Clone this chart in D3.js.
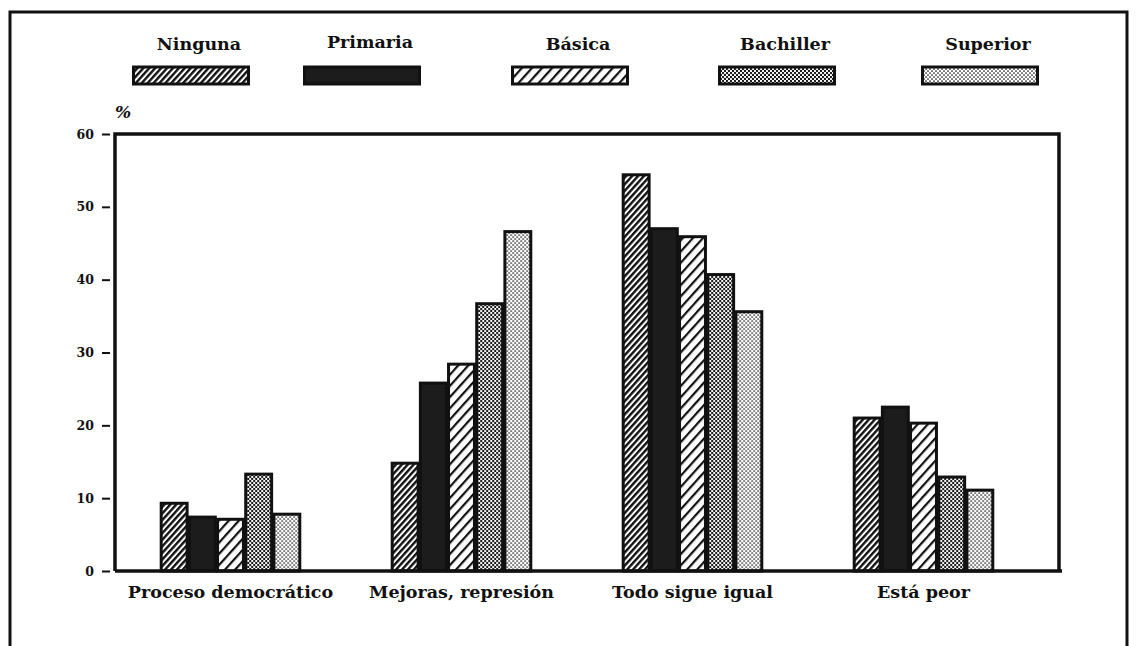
<!DOCTYPE html>
<html>
<head>
<meta charset="utf-8">
<script src="https://cdn.jsdelivr.net/npm/d3@7"></script>
<style>
  body { margin: 0; background: #fff; }
  text { font-family: 'DejaVu Serif', serif; fill: #111; }
</style>
</head>
<body>
<div id="chart"></div>
<script>
// values (%)
const categories = ['Proceso democrático', 'Mejoras, represión', 'Todo sigue igual', 'Está peor']
const levels = ['Ninguna', 'Primaria', 'Básica', 'Bachiller', 'Superior']
const ninguna = [9.3, 14.8, 54.4, 21.0]
const primaria = [7.4, 25.8, 47.0, 22.5]
const basica = [7.1, 28.4, 45.9, 20.3]
const bachiller = [13.3, 36.7, 40.7, 12.9]
const superior = [7.8, 46.6, 35.6, 11.1]
const yTicks = [0, 10, 20, 30, 40, 50, 60]

const seriesValues = [ninguna, primaria, basica, bachiller, superior]
const fills = ['url(#hatch-dense)', '#1c1c1c', 'url(#hatch-wide)', 'url(#dots-dark)', 'url(#dots-light)']
// legend swatch left edges, as placed in the original
const legendX = [132, 303, 511, 718, 921]

const width = 1138
const height = 646
const plot = { left: 115, right: 1059, top: 134, bottom: 571 }

let svg = d3.select('#chart').append('svg')
    .attr('width', width)
    .attr('height', height)

svg.append('rect')
    .attr('width', width)
    .attr('height', height)
    .attr('fill', '#fff')

let defs = svg.append('defs')

function hatch (id, size, lineW) {
    let p = defs.append('pattern')
        .attr('id', id)
        .attr('patternUnits', 'userSpaceOnUse')
        .attr('width', size)
        .attr('height', size)
        .attr('patternTransform', 'rotate(42)')
    p.append('rect').attr('width', size).attr('height', size).attr('fill', '#fff')
    p.append('rect').attr('width', lineW).attr('height', size).attr('fill', '#111')
}
hatch('hatch-dense', 4.4, 2.4)
hatch('hatch-wide', 7.5, 2.2)

function dots (id, r) {
    let p = defs.append('pattern')
        .attr('id', id)
        .attr('patternUnits', 'userSpaceOnUse')
        .attr('width', 4)
        .attr('height', 4)
    p.append('rect').attr('width', 4).attr('height', 4).attr('fill', '#fff')
    p.append('circle').attr('cx', 1).attr('cy', 1).attr('r', r).attr('fill', '#111')
    p.append('circle').attr('cx', 3).attr('cy', 3).attr('r', r).attr('fill', '#111')
}
dots('dots-dark', 1.15)
dots('dots-light', 0.85)

// outer frame of the page
svg.append('path')
    .attr('d', 'M10,646 V12 H1127 V646')
    .attr('fill', 'none')
    .style('stroke', '#111')
    .style('stroke-width', 3)

// legend
let legend = svg.append('g').attr('id', 'legend')
levels.forEach((name, i) => {
    let g = legend.append('g').attr('transform', 'translate (' + legendX[i] + ', 0)')
    g.append('text')
        .attr('x', 67)
        .attr('y', i == 1 ? 48 : 50)
        .text(name)
        .style('font-size', '17.5px')
        .style('font-weight', 'bold')
        .style('text-anchor', 'middle')
    g.append('rect')
        .attr('x', 1.5)
        .attr('y', 67)
        .attr('width', 115)
        .attr('height', 17)
        .attr('fill', fills[i])
        .style('stroke', '#111')
        .style('stroke-width', 3)
})

// scales
let y = d3.scaleLinear().domain([0, 60]).range([plot.bottom, plot.top])
let x0 = d3.scaleBand().domain(categories).range([115, 1039]).paddingInner(0.4).paddingOuter(0.2)
let x1 = d3.scaleBand().domain(levels).range([0, x0.bandwidth()]).paddingInner(0.08)

// y axis ticks, detached from the axis line
let yAxis = svg.append('g')
    .attr('transform', 'translate (110, 0)')
    .call(d3.axisLeft(y).tickValues(yTicks).tickSize(8).tickPadding(8))
yAxis.select('.domain').remove()
yAxis.selectAll('line').style('stroke', '#111').style('stroke-width', 2)
yAxis.selectAll('text')
    .style('font-family', "'DejaVu Serif', serif")
    .style('font-size', '12.5px')
    .style('font-weight', 'bold')
    .attr('fill', '#111')

svg.append('text')
    .attr('x', 115)
    .attr('y', 118)
    .text('%')
    .style('font-size', '17px')
    .style('font-weight', 'bold')
    .style('font-style', 'italic')

// bars
let groups = svg.append('g')
    .selectAll('g')
    .data(categories)
    .join('g')
    .attr('transform', d => 'translate (' + x0(d) + ', 0)')

groups.selectAll('rect')
    .data((d, ci) => levels.map((lev, li) => ({ lev: lev, li: li, v: seriesValues[li][ci] })))
    .join('rect')
    .attr('x', d => x1(d.lev))
    .attr('y', d => y(d.v))
    .attr('width', x1.bandwidth())
    .attr('height', d => plot.bottom - y(d.v))
    .attr('fill', d => fills[d.li])
    .style('stroke', '#111')
    .style('stroke-width', 3)

// plot frame
svg.append('path')
    .attr('d', 'M' + plot.left + ',' + plot.bottom + ' V' + plot.top + ' H' + plot.right + ' V' + plot.bottom)
    .attr('fill', 'none')
    .style('stroke', '#111')
    .style('stroke-width', 3.5)

svg.append('line')
    .attr('x1', plot.left)
    .attr('x2', plot.right + 3)
    .attr('y1', plot.bottom)
    .attr('y2', plot.bottom)
    .style('stroke', '#111')
    .style('stroke-width', 3.5)

// category labels
let xAxis = svg.append('g')
    .attr('transform', 'translate (0, ' + plot.bottom + ')')
    .call(d3.axisBottom(x0).tickSize(0).tickPadding(15))
xAxis.select('.domain').remove()
xAxis.selectAll('text')
    .style('font-family', "'DejaVu Serif', serif")
    .style('font-size', '17.5px')
    .style('font-weight', 'bold')
    .attr('fill', '#111')
</script>
</body>
</html>
